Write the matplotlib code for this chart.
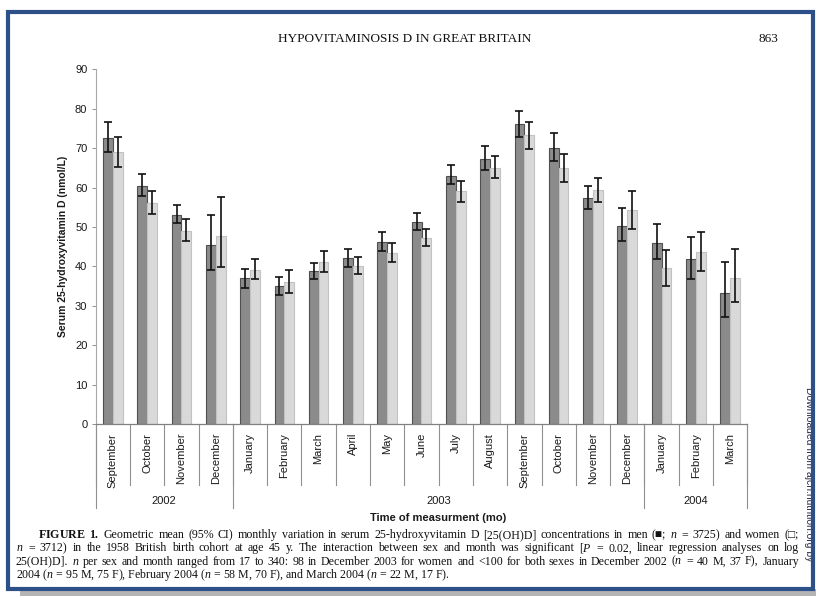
import matplotlib
matplotlib.use('Agg')
import matplotlib.pyplot as plt
import numpy as np
from matplotlib.patches import Rectangle

# Dados
months = ['September', 'October', 'November', 'December',
          'January', 'February', 'March', 'April', 'May', 'June', 'July', 'August',
          'September', 'October', 'November', 'December',
          'January', 'February', 'March']
years = ['2002', '2003', '2004']
year_sizes = [4, 12, 3]

men = [72.5, 60.5, 53.0, 45.4, 37.0, 34.9, 38.7, 42.0, 46.3, 51.2,
       62.9, 67.3, 76.1, 70.1, 57.4, 50.3, 45.9, 41.8, 33.2]
men_lo = [69.0, 57.9, 50.9, 39.0, 34.6, 32.7, 36.7, 39.9, 44.0, 49.2,
          60.8, 64.5, 72.8, 66.8, 54.6, 46.4, 41.8, 36.8, 27.1]
men_hi = [76.7, 63.5, 55.6, 53.0, 39.3, 37.4, 40.9, 44.3, 48.7, 53.5,
          65.7, 70.6, 79.5, 73.9, 60.4, 54.8, 50.8, 47.5, 41.1]

women = [69.0, 56.0, 49.0, 47.8, 39.2, 36.0, 41.0, 40.2, 43.5, 47.3,
         59.0, 65.0, 73.3, 65.0, 59.3, 54.3, 39.6, 43.6, 37.0]
women_lo = [65.3, 53.3, 46.4, 39.9, 36.9, 33.3, 38.6, 38.0, 41.2, 45.2,
            56.3, 62.3, 69.9, 61.3, 56.3, 49.6, 35.0, 38.7, 31.0]
women_hi = [72.8, 59.0, 52.0, 57.5, 41.8, 39.0, 43.9, 42.5, 45.9, 49.5,
            61.7, 67.9, 76.7, 68.4, 62.3, 59.1, 44.2, 48.6, 44.3]

caption = [
    r"$\mathbf{FIGURE}$ $\mathbf{1.}$ Geometric mean (95% CI) monthly variation in serum 25-hydroxyvitamin D [25(OH)D] concentrations in men (■; $n$ = 3725) and women (□;",
    r"$n$ = 3712) in the 1958 British birth cohort at age 45 y. The interaction between sex and month was significant [$P$ = 0.02, linear regression analyses on log",
    r"25(OH)D]. $n$ per sex and month ranged from 17 to 340: 98 in December 2003 for women and <100 for both sexes in December 2002 ($n$ = 40 M, 37 F), January",
    r"2004 ($n$ = 95 M, 75 F), February 2004 ($n$ = 58 M, 70 F), and March 2004 ($n$ = 22 M, 17 F).",
]

plt.rcParams['font.family'] = ['Liberation Sans', 'DejaVu Sans']
plt.rcParams['mathtext.fontset'] = 'custom'
plt.rcParams['mathtext.rm'] = 'Liberation Serif'
plt.rcParams['mathtext.it'] = 'Liberation Serif:italic'
plt.rcParams['mathtext.bf'] = 'Liberation Serif:bold'

W, H = 816, 598
fig = plt.figure(figsize=(W / 100, H / 100), dpi=100)


def fx(px):
    return px / W


def fy(py):
    return 1 - py / H


ax_left, ax_right, ax_bottom, ax_top = 95.7, 747.3, 424, 69.3
ax = fig.add_axes([fx(ax_left), fy(ax_bottom), (ax_right - ax_left) / W, (ax_bottom - ax_top) / H])


def ay(py):
    return (ax_bottom - py) / (ax_bottom - ax_top)


x = np.arange(len(months))
w = 0.2857
men = np.array(men)
women = np.array(women)

ax.bar(x - w / 2, men, w, color='#8b8b8b', edgecolor='#505050', linewidth=0.8, zorder=2)
ax.bar(x + w / 2, women, w, color='#d9d9d9', edgecolor='#c2c2c2', linewidth=0.8, zorder=2)
ax.errorbar(x - w / 2, men, yerr=[men - np.array(men_lo), np.array(men_hi) - men],
            fmt='none', ecolor='#111111', elinewidth=1.2, capsize=2.6, capthick=1.2, zorder=3)
ax.errorbar(x + w / 2, women, yerr=[women - np.array(women_lo), np.array(women_hi) - women],
            fmt='none', ecolor='#111111', elinewidth=1.2, capsize=2.6, capthick=1.2, zorder=3)

ax.set_xlim(-0.5, len(months) - 0.5)
ax.set_ylim(0, 90)
ax.set_yticks(range(0, 91, 10))
ax.tick_params(axis='y', length=3, width=0.7, color='#909090', pad=3, labelsize=8, labelcolor='#1a1a1a')
ax.set_xticks(x)
ax.set_xticklabels(months, rotation=90, fontsize=8, color='#1a1a1a')
ax.tick_params(axis='x', length=0, pad=6.3)

for s in ['top', 'right']:
    ax.spines[s].set_visible(False)
ax.spines['left'].set_color('#a8a8a8')
ax.spines['left'].set_linewidth(0.8)
ax.spines['bottom'].set_color('#808080')
ax.spines['bottom'].set_linewidth(0.9)

# separadores dos meses e dos anos
tr = ax.get_xaxis_transform()
for b in np.arange(len(months) + 1) - 0.5:
    ax.plot([b, b], [0, ay(485)], transform=tr, color='#909090', lw=0.8, clip_on=False)
edges = np.concatenate([[0], np.cumsum(year_sizes)]) - 0.5
for b in edges:
    ax.plot([b, b], [0, ay(508)], transform=tr, color='#909090', lw=0.8, clip_on=False)
for i, yr in enumerate(years):
    ax.text((edges[i] + edges[i + 1]) / 2, ay(501), yr, transform=tr,
            ha='center', va='center', fontsize=8, color='#1a1a1a')

fig.text(fx(63), fy(246), 'Serum 25-hydroxyvitamin D (nmol/L)', rotation=90,
         ha='center', va='center', fontsize=7.5, fontweight='bold', color='#1a1a1a')
fig.text(fx(438), fy(518), 'Time of measurment (mo)', ha='center', va='center',
         fontsize=8, fontweight='bold', color='#1a1a1a')

# cabeçalho da página
fig.text(fx(405), fy(39), 'HYPOVITAMINOSIS D IN GREAT BRITAIN', ha='center', va='center',
         fontsize=9.5, family='Liberation Serif', color='#111111')
fig.text(fx(768), fy(39), '863', ha='center', va='center',
         fontsize=9.5, family='Liberation Serif', color='#111111')

# legenda da figura (linhas justificadas palavra a palavra)
renderer = fig.canvas.get_renderer()
cap_style = dict(va='center', ha='left', fontsize=8.6, family=['Liberation Serif', 'DejaVu Sans'],
                 color='#111111')
line_y = [535, 548.3, 561.6, 575]
line_x = [38, 16, 16, 16]
right_edge = 799
for i, line in enumerate(caption):
    if i == 3:
        fig.text(fx(line_x[i]), fy(line_y[i]), line, **cap_style)
        continue
    words = line.split(' ')
    texts = [fig.text(0, fy(line_y[i]), wd, **cap_style) for wd in words]
    widths = [t.get_window_extent(renderer).width for t in texts]
    gap = (right_edge - line_x[i] - sum(widths)) / (len(words) - 1)
    pos = line_x[i]
    for t, wd in zip(texts, widths):
        t.set_x(fx(pos))
        pos += wd + gap

fig.text(fx(809), fy(387), 'Downloaded from ajcn.nutrition.org by', rotation=270,
         ha='center', va='top', fontsize=7.5, color='#2a2f4a')

# moldura azul e sombra
fig.patches.append(Rectangle((fx(20), fy(596)), fx(796), 7 / H, transform=fig.transFigure,
                             facecolor='#b5b5b5', edgecolor='none', zorder=0))
fig.patches.append(Rectangle((fx(8), fy(589)), fx(805), (589 - 12) / H, transform=fig.transFigure,
                             facecolor='none', edgecolor='#2c5087', linewidth=3, zorder=5))

fig.savefig('out.png', dpi=100)
